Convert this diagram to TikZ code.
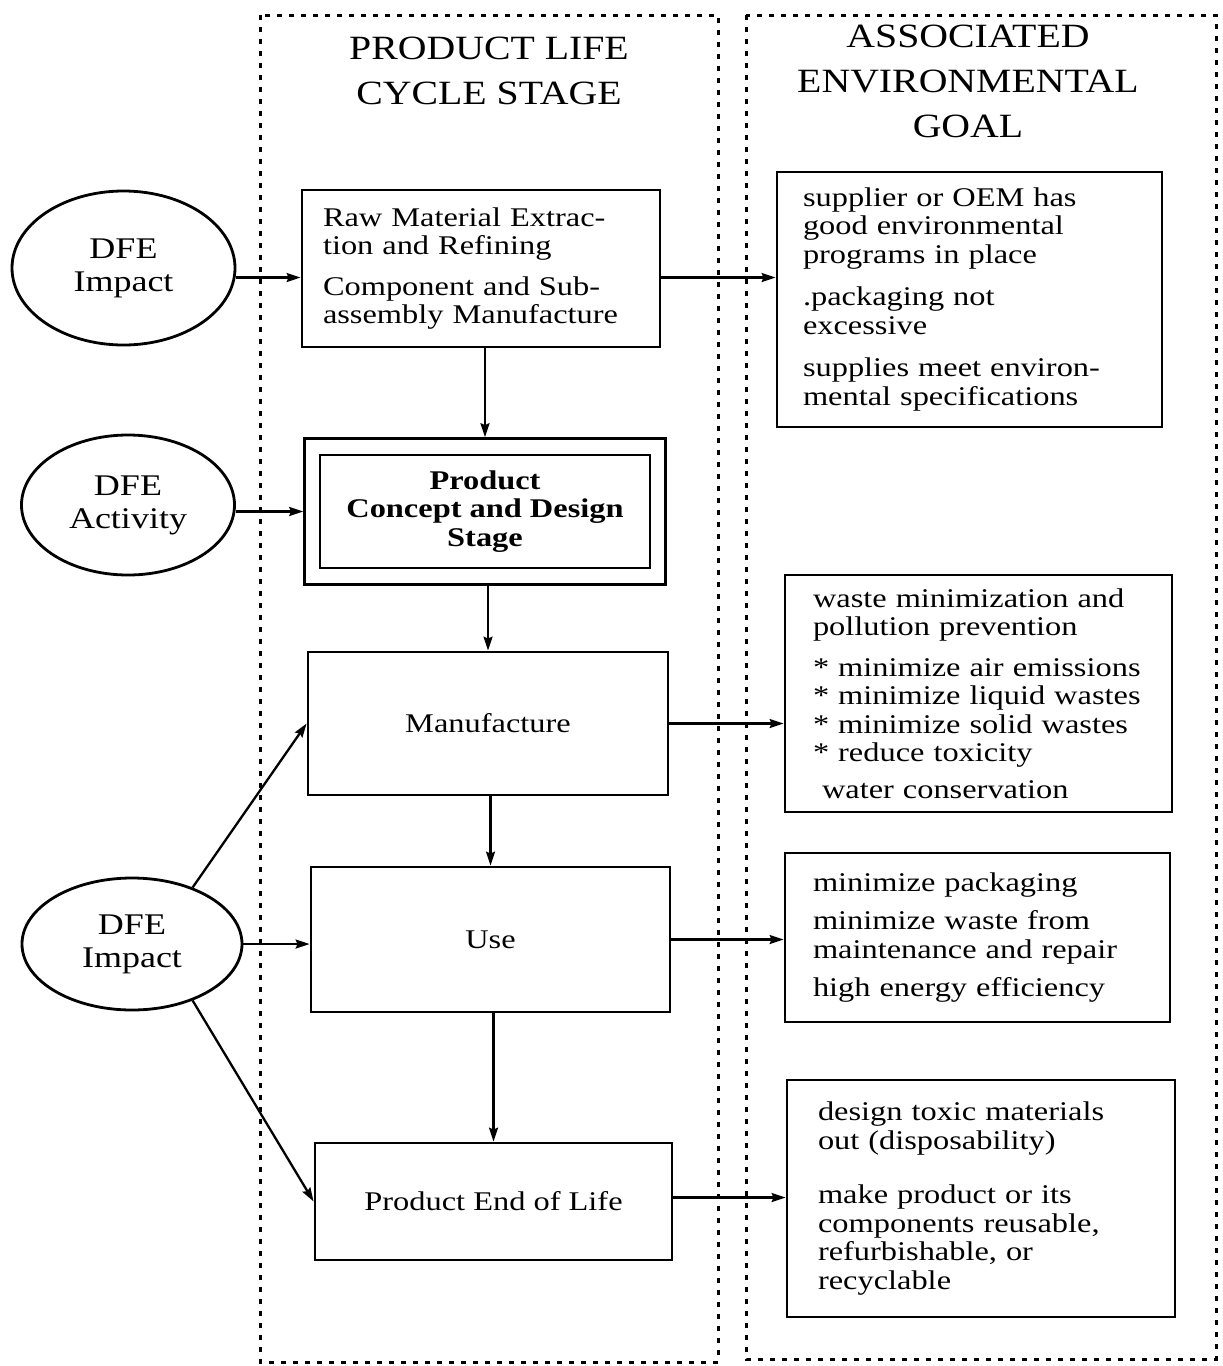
\documentclass[tikz,border=0pt]{standalone}
\usepackage{fontspec}
\setmainfont{Liberation Serif}[FakeStretch=1.2]
\newfontfamily\headfont{Liberation Serif}[FakeStretch=1.17]
\usetikzlibrary{shapes.geometric,arrows.meta,fit,calc}

\newcommand\bodysize{\fontsize{27pt}{28.5pt}\selectfont}
\newcommand\headsize{\headfont\fontsize{34pt}{45pt}\selectfont}
\newcommand\ovalsize{\fontsize{30pt}{33pt}\selectfont}
\newcommand\gl[1]{\mbox{#1}}

\begin{document}
\begin{tikzpicture}[x=1pt,y=-1pt,
  frame/.style={draw, line width=3pt, dash pattern=on 5pt off 7pt},
  stagebox/.style={draw, line width=2.8pt, rectangle, inner sep=0pt,
    align=center, font=\bodysize},
  goalbox/.style={draw, line width=2.8pt, rectangle, inner ysep=0pt,
    align=left, font=\bodysize},
  dfe/.style={draw, line width=2.8pt, ellipse, inner sep=0pt,
    align=center, font=\ovalsize},
  arr/.style={line width=2.3pt, -{Stealth[length=14pt,width=9pt,inset=2pt]}},
  title/.style={align=center, font=\headsize}]

\useasboundingbox (0,0) rectangle (1223,1366);

% the two dashed column frames
\draw[frame] (260,15) rectangle (718,1362);
\draw[frame] (746,15) rectangle (1216,1359);

% column headings
\node[title] (h1) at (489,71) {PRODUCT LIFE\\CYCLE STAGE};
\node[title] (h2) at (968,81) {ASSOCIATED\\ENVIRONMENTAL\\GOAL};

% life cycle stages
\node[stagebox, minimum width=358pt, minimum height=157pt, text width=316pt,
      align=left] (raw) at (481,268.5)
  {\gl{Raw Material Extrac-}\\\gl{tion and Refining}\\[12pt]
   \gl{Component and Sub-}\\\gl{assembly Manufacture}};

\node[stagebox, minimum width=330pt, minimum height=113pt,
      font=\bfseries\bodysize] (design) at (485,511.5)
  {Product\\Concept and Design\\Stage};
\node[draw, line width=2.8pt, inner xsep=14pt, inner ysep=15pt,
      fit=(design)] (designout) {};

\node[stagebox, minimum width=360pt, minimum height=143pt] (manu) at (488,723.5)
  {Manufacture};
\node[stagebox, minimum width=359pt, minimum height=145pt] (use) at (490.5,939.5)
  {Use};
\node[stagebox, minimum width=357pt, minimum height=117pt] (eol) at (493.5,1201.5)
  {Product End of Life};

% DFE ovals
\node[dfe, minimum width=223pt, minimum height=154pt] (e1) at (123.5,268)
  {DFE\\Impact};
\node[dfe, minimum width=213pt, minimum height=140pt] (e2) at (128,505)
  {DFE\\Activity};
\node[dfe, minimum width=220pt, minimum height=132pt] (e3) at (132,944)
  {DFE\\Impact};

% environmental goals
\node[goalbox, minimum width=385pt, minimum height=255pt, inner xsep=26pt,
      text width=333pt] (g1) at (969.5,299.5)
  {\gl{supplier or OEM has}\\\gl{good environmental}\\\gl{programs in place}\\[14pt]
   \gl{.packaging not}\\\gl{excessive}\\[14pt]
   \gl{supplies meet environ-}\\\gl{mental specifications}};

\node[goalbox, minimum width=387pt, minimum height=237pt, inner xsep=28pt,
      text width=331pt] (g3) at (978.5,693.5)
  {\gl{waste minimization and}\\\gl{pollution prevention}\\[12pt]
   \gl{* minimize air emissions}\\\gl{* minimize liquid wastes}\\
   \gl{* minimize solid wastes}\\\gl{* reduce toxicity}\\[8pt]
   \gl{\ water conservation}};

\node[goalbox, minimum width=385pt, minimum height=169pt, inner xsep=28pt,
      text width=329pt] (g4) at (977.5,937.5)
  {\gl{minimize packaging}\\[10pt]
   \gl{minimize waste from}\\\gl{maintenance and repair}\\[10pt]
   \gl{high energy efficiency}};

\node[goalbox, minimum width=388pt, minimum height=237pt, inner xsep=31pt,
      text width=326pt] (g5) at (981,1198.5)
  {\gl{design toxic materials}\\\gl{out (disposability)}\\[26pt]
   \gl{make product or its}\\\gl{components reusable,}\\
   \gl{refurbishable, or}\\\gl{recyclable}};

% flow down the life cycle
\draw[arr] (designout.north |- raw.south) -- (designout.north);
\draw[arr] (manu.north |- designout.south) -- (manu.north);
\draw[arr] (use.north |- manu.south) -- (use.north);
\draw[arr] (eol.north |- use.south) -- (eol.north);

% DFE ovals into the stages
\coordinate (rawin) at ([yshift=-9pt]raw.west);
\draw[arr] (rawin -| e1.east) -- (rawin);
\draw[arr] (designout.west -| e2.east) -- (designout.west);
\draw[arr] (e3.43) -- (manu.west);
\draw[arr] (e3.east) -- (e3.east -| use.west);
\draw[arr] (e3.-43) -- (eol.west);

% stages to their goals
\coordinate (rawout) at ([yshift=-9pt]raw.east);
\draw[arr] (rawout) -- (rawout -| g1.west);
\draw[arr] (manu.east) -- (manu.east -| g3.west);
\draw[arr] (use.east) -- (use.east -| g4.west);
\coordinate (eolout) at ([yshift=4pt]eol.east);
\draw[arr] (eolout) -- (eolout -| g5.west);
\end{tikzpicture}
\end{document}
